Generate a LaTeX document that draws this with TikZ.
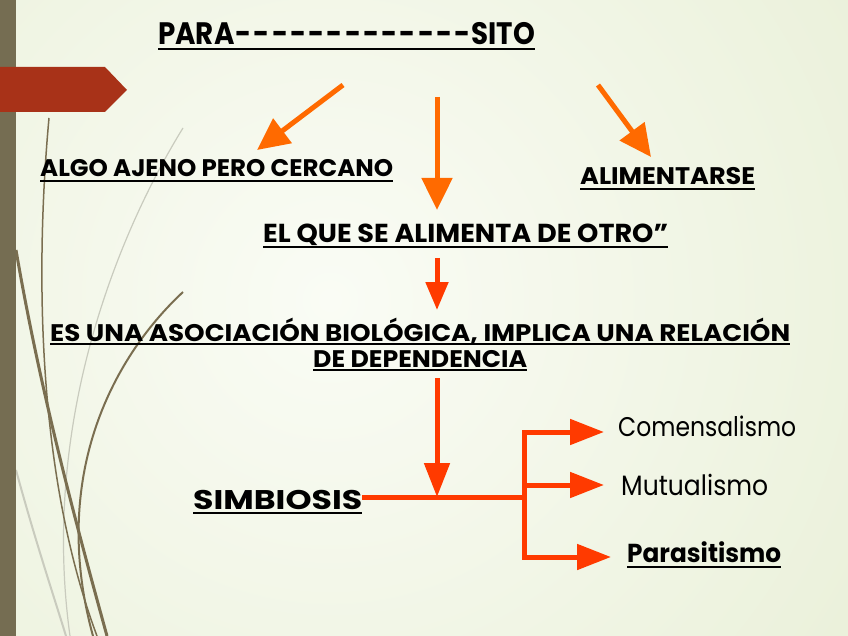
\documentclass[tikz,border=0pt]{standalone}
\usepackage{fontspec}
\setmainfont{Poppins}
\usetikzlibrary{arrows.meta}
\definecolor{bgc}{HTML}{E0E9C8}
\definecolor{bgin}{HTML}{FAFCF5}
\definecolor{strip}{HTML}{756D52}
\definecolor{banner}{HTML}{A83218}
\definecolor{orng}{HTML}{FF6A00}
\definecolor{rorng}{HTML}{FF3A00}
\definecolor{grass}{HTML}{7A6E50}
\definecolor{lgrass}{HTML}{C9CBBE}
\newcommand\fitto[2]{\setbox0\hbox{#2}\pgfmathsetmacro\myfx{#1/\the\wd0}\scalebox{\myfx}[1]{\copy0}}
\newcommand\dsh{\kern1.2pt-\kern1.2pt}
\tikzset{
  txt/.style={anchor=base west, inner sep=0pt, text=black},
  ul/.style={line width=2.6pt, black},
  oarr/.style={orng, line width=5pt, -{Triangle[length=32pt,width=30pt]}},
  rarr/.style={rorng, line width=5pt, -{Triangle[length=34pt,width=25pt]}},
  rline/.style={rorng, line width=5pt},
  grassd/.style={grass, line width=#1},
  grassl/.style={lgrass, line width=#1},
}
\begin{document}
\begin{tikzpicture}[x=1pt,y=-1pt]
\useasboundingbox (0,0) rectangle (848,636);
% background
\fill[bgc] (0,0) rectangle (848,636);
\begin{scope}
  \clip (0,0) rectangle (848,636);
  \shade[inner color=bgin, outer color=bgc] (330,300) circle (1050pt);
\end{scope}
% decorative grass
\draw[grassl=1.2] (183,128) .. controls (120,230) and (40,420) .. (70,636);
\draw[grassl=2] (16,470) .. controls (35,540) and (55,600) .. (66,636);
\draw[grassd=1.5] (49,118) .. controls (36,260) and (35,470) .. (97,636);
\draw[grassd=2] (183,292) .. controls (110,360) and (50,480) .. (93,636);
\draw[grassd=3] (16,250) .. controls (40,390) and (75,520) .. (107,636);
% left strip and banner
\fill[strip] (0,0) rectangle (16,636);
\fill[banner] (0,67) -- (105,67) -- (127,90) -- (105,112) -- (0,112) -- cycle;
% texts
\node[txt, font=\bfseries\fontsize{31}{36}\selectfont] (title) at (158,45) {\fitto{377}{PARA\dsh\dsh\dsh\dsh\dsh\dsh\dsh\dsh\dsh\dsh\dsh\dsh\dsh SITO}};
\node[txt, font=\bfseries\fontsize{24}{28}\selectfont] (algo) at (40,177) {\fitto{353}{ALGO AJENO PERO CERCANO}};
\node[txt, font=\bfseries\fontsize{24}{28}\selectfont] (alim) at (580,185) {\fitto{175}{ALIMENTARSE}};
\node[txt, font=\bfseries\fontsize{26}{30}\selectfont] (elque) at (263,243) {\fitto{405}{EL QUE SE ALIMENTA DE OTRO”}};
\node[txt, font=\bfseries\fontsize{24}{28}\selectfont] (es1) at (50,341) {\fitto{740}{ES UNA ASOCIACIÓN BIOLÓGICA, IMPLICA UNA RELACIÓN}};
\node[txt, font=\bfseries\fontsize{24}{28}\selectfont] (es2) at (313,367) {\fitto{214}{DE DEPENDENCIA}};
\node[txt, font=\bfseries\fontsize{27}{30}\selectfont] (simb) at (193,509) {\fitto{169}{SIMBIOSIS}};
\node[txt, font=\fontsize{27}{30}\selectfont] (com) at (618,436) {\fitto{178}{Comensalismo}};
\node[txt, font=\fontsize{28}{30}\selectfont] (mut) at (621,495) {\fitto{147}{Mutualismo}};
\node[txt, font=\bfseries\fontsize{26}{30}\selectfont] (par) at (627,562) {\fitto{154}{Parasitismo}};
% underlines
\foreach \n/\d in {title/4, algo/4, alim/4, elque/4, es1/3, es2/3, simb/4, par/5}{
  \draw[ul] ([yshift=-\d pt]\n.base west) -- ([yshift=-\d pt]\n.base east);
}
% connector coordinates
\coordinate (a1s) at (343,85);  \coordinate (a1e) at (257,150);
\coordinate (a2s) at (437,97);  \coordinate (a2e) at (437,210);
\coordinate (a3s) at (598,85);  \coordinate (a3e) at (651,157);
\coordinate (a4s) at (437,258); \coordinate (a4e) at (437,310);
\coordinate (a5s) at (437,378); \coordinate (a5e) at (437,497);
\coordinate (sj) at (362,497);  \coordinate (bj) at (524,497);
\coordinate (bt) at (524,432);  \coordinate (bb) at (524,557);
\coordinate (bm) at (524,485);
\coordinate (tc) at (604,432);  \coordinate (tm) at (604,485); \coordinate (tp) at (611,557);
% arrows
\draw[oarr] (a1s) -- (a1e);
\draw[oarr] (a2s) -- (a2e);
\draw[oarr] (a3s) -- (a3e);
\draw[rarr, -{Triangle[length=28pt,width=22pt]}] (a4s) -- (a4e);
\draw[rline] (sj) -- (bj);
\draw[rline, line cap=rect] (bt) -- (bb);
\draw[rarr] (a5s) -- (a5e);
\draw[rarr] (bt) -- (tc);
\draw[rarr] (bm) -- (tm);
\draw[rarr] (bb) -- (tp);
\end{tikzpicture}
\end{document}
